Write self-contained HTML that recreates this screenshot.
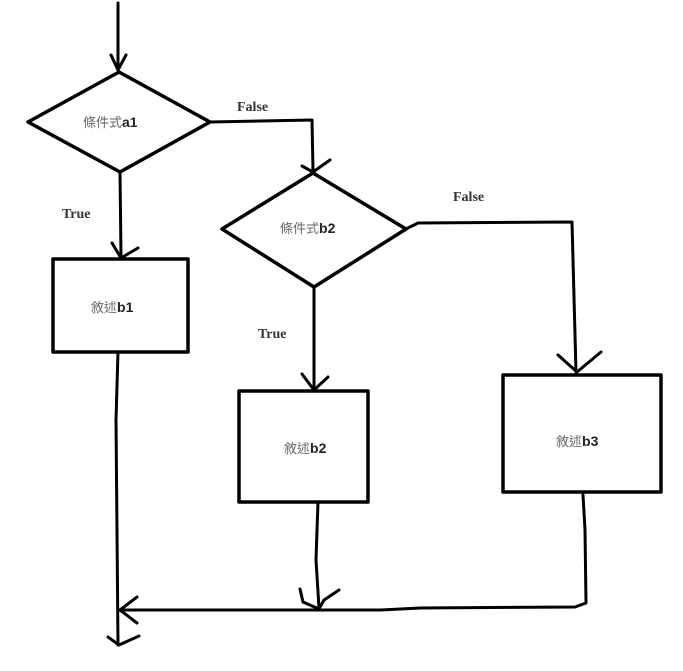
<!DOCTYPE html>
<html><head><meta charset="utf-8"><style>
html,body{margin:0;padding:0;background:#fff;}
svg{display:block;}
.t{font-family:"Liberation Sans","Noto Sans CJK TC",sans-serif;font-size:13px;fill:#666;}
.b{font-family:"Liberation Sans",sans-serif;font-weight:bold;fill:#222;}
.l{font-family:"Liberation Serif",serif;font-weight:bold;font-size:14px;fill:#333;}
</style></head><body>
<svg width="683" height="671" viewBox="0 0 683 671" fill="none" stroke="#000" stroke-width="3" stroke-linecap="round" stroke-linejoin="round">
<!-- top arrow -->
<path d="M118 3 L118 70"/>
<path d="M111 55 L118 70 L126 55"/>
<!-- diamond a1 -->
<polygon points="119,72 28,122 210,122" stroke="none"/>
<polygon points="119,72 210,122 120,172 28,122" stroke-width="3.5"/>
<!-- true a1 -->
<path d="M120 172 L121 256"/>
<path d="M112 243 L121 258 L138 248"/>
<rect x="53" y="259" width="135" height="93" stroke-width="3.5"/>
<!-- false a1 -->
<path d="M210 122 L312 120 L313 170"/>
<path d="M302 166 L313 172 L330 160"/>
<!-- diamond b2 -->
<polygon points="313,173 406,229 314,287 222,229" stroke-width="3.5"/>
<!-- true b2 -->
<path d="M314 287 L314 388"/>
<path d="M302 374 L314 390 L328 377"/>
<rect x="239" y="391" width="129" height="111" stroke-width="3.5"/>
<!-- false b2 -->
<path d="M406 229 L418 223 L572 222 L576 372"/>
<path d="M558 355 L577 372 L601 352"/>
<rect x="503" y="375" width="158" height="117" stroke-width="3.5"/>
<!-- bottom -->
<path d="M118 352 L116 420 L118 645"/>
<path d="M108 637 L119 645 L139 636"/>
<path d="M318 502 L316 560 L319 608"/>
<path d="M300 589 L303 602 L319 609 L324 600 L339 590"/>
<path d="M583 495 L585 530 L586 603 L575 607 L420 608 L380 610 L120 610"/>
<path d="M137 597 L120 610 L137 623"/>
</svg>
<svg width="683" height="671" style="position:absolute;left:0;top:0">
<text class="t" x="83" y="127">條件式<tspan class="b" font-size="14">a1</tspan></text>
<text class="t" x="280" y="233">條件式<tspan class="b" font-size="14">b2</tspan></text>
<text class="t" x="91" y="312">敘述<tspan class="b" font-size="14">b1</tspan></text>
<text class="t" x="284" y="453">敘述<tspan class="b" font-size="14">b2</tspan></text>
<text class="t" x="556" y="446">敘述<tspan class="b" font-size="14">b3</tspan></text>
<text class="l" x="237" y="111">False</text>
<text class="l" x="453" y="201">False</text>
<text class="l" x="62" y="218">True</text>
<text class="l" x="258" y="338">True</text>
</svg>
</body></html>
